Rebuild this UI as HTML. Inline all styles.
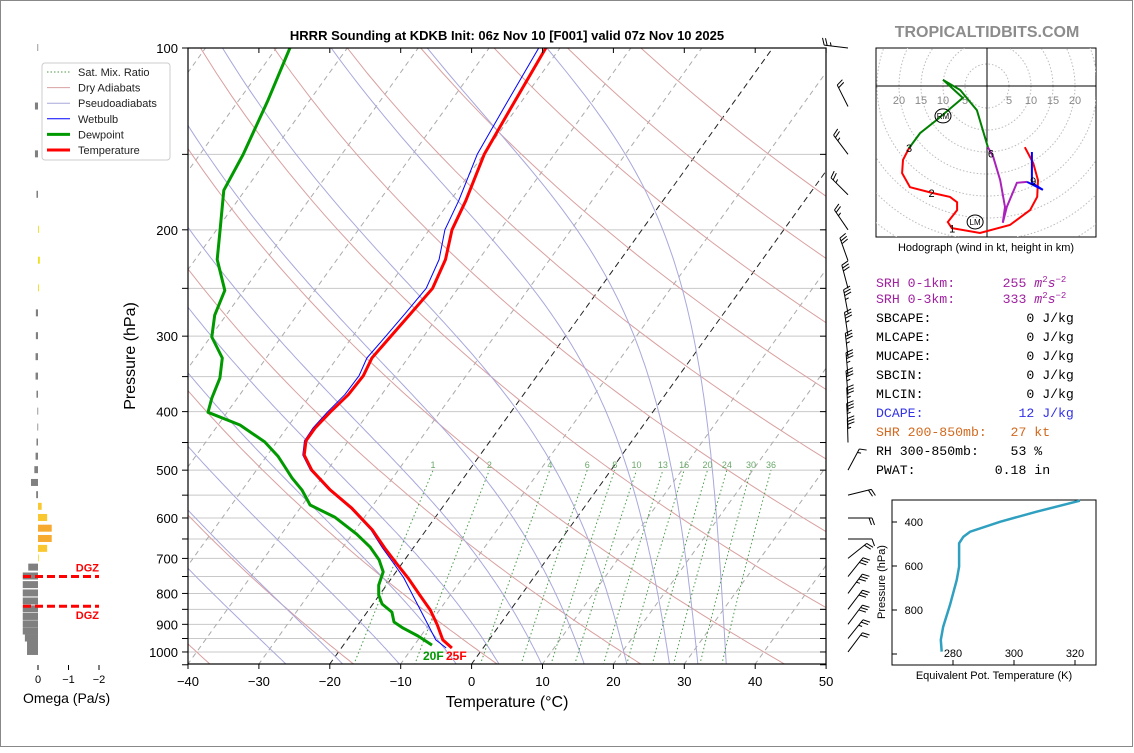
<!DOCTYPE html>
<html><head><meta charset="utf-8">
<style>
html,body{margin:0;padding:0;background:#fff;}
body{width:1134px;height:748px;overflow:hidden;font-family:"Liberation Sans",sans-serif;}
svg text{font-family:"Liberation Sans",sans-serif;}
.mono{font-family:"Liberation Mono",monospace;font-size:13.2px;}
</style></head>
<body>
<svg id="root" width="1134" height="748" viewBox="0 0 1134 748" xmlns="http://www.w3.org/2000/svg">
<rect x="0.5" y="0.5" width="1132" height="746" fill="#fff" stroke="#888"/>
<defs><clipPath id="plotclip"><rect x="188" y="48" width="638" height="616"/></clipPath>
<clipPath id="hodoclip"><rect x="876" y="48" width="220" height="189"/></clipPath></defs>
<text x="507" y="40" text-anchor="middle" font-size="13" font-weight="bold">HRRR Sounding at KDKB Init: 06z Nov 10 [F001] valid 07z Nov 10 2025</text>
<text x="987" y="37" text-anchor="middle" font-size="16" font-weight="bold" fill="#8c8c8c">TROPICALTIDBITS.COM</text>
<g id="bg" clip-path="url(#plotclip)"></g>
<g id="prof" clip-path="url(#plotclip)"></g>
<g id="axes"></g>
<g id="barbs"></g>
<g id="omega"></g>
<g id="legend"></g>
<g id="hodo"></g>
<g id="thetae"></g>
<g id="stats">
<text class="mono" x="876" y="287" fill="#a020a0" xml:space="preserve">SRH 0-1km:      255 <tspan font-style="italic">m</tspan><tspan font-size="9" dy="-5">2</tspan><tspan font-style="italic" dy="5">s</tspan><tspan font-size="9" dy="-5">−2</tspan></text>
<text class="mono" x="876" y="303" fill="#a020a0" xml:space="preserve">SRH 0-3km:      333 <tspan font-style="italic">m</tspan><tspan font-size="9" dy="-5">2</tspan><tspan font-style="italic" dy="5">s</tspan><tspan font-size="9" dy="-5">−2</tspan></text>
<text class="mono" x="876" y="322" xml:space="preserve">SBCAPE:            0 J/kg</text>
<text class="mono" x="876" y="341" xml:space="preserve">MLCAPE:            0 J/kg</text>
<text class="mono" x="876" y="360" xml:space="preserve">MUCAPE:            0 J/kg</text>
<text class="mono" x="876" y="379" xml:space="preserve">SBCIN:             0 J/kg</text>
<text class="mono" x="876" y="398" xml:space="preserve">MLCIN:             0 J/kg</text>
<text class="mono" x="876" y="417" fill="#3232e6" xml:space="preserve">DCAPE:            12 J/kg</text>
<text class="mono" x="876" y="436" fill="#d2691e" xml:space="preserve">SHR 200-850mb:   27 kt</text>
<text class="mono" x="876" y="455" xml:space="preserve">RH 300-850mb:    53 %</text>
<text class="mono" x="876" y="474" xml:space="preserve">PWAT:          0.18 in</text>
</g>
</svg>
<script>
// ---- Sounding data ----
const tempP = [985,955,902,852,805,754,712,673,628,578,539,500,472,447,426,401,375,349,326,304,274,250,224,200,179,150,127,100];
const tempC = [-4.4,-6.5,-8.8,-11.3,-14.3,-17.7,-20.9,-24.0,-27.6,-32.7,-37.6,-42.2,-44.8,-46.0,-46.0,-45.5,-44.7,-44.5,-45.1,-44.7,-44.1,-43.6,-44.7,-46.8,-47.8,-49.9,-50.8,-52.0];
const wetbulbC = [-5.2,-7.5,-10.1,-12.7,-15.3,-18.3,-21.3,-24.3,-27.8,-32.9,-37.8,-42.4,-45.0,-46.2,-46.3,-45.9,-45.2,-45.1,-45.8,-45.4,-44.9,-44.5,-45.6,-47.8,-48.8,-50.9,-51.8,-53.0];
const dewP = [974,941,913,892,859,833,805,775,737,704,670,638,598,571,539,515,494,474,449,421,401,380,352,326,301,277,252,224,200,172,150,122,100];
const dewC = [-7.5,-10.4,-13.3,-15.2,-16.5,-18.7,-20.1,-21.1,-21.8,-23.6,-26.2,-29.4,-34.2,-38.9,-41.6,-44.2,-46.3,-48.4,-51.7,-56.9,-62.7,-63.6,-64.5,-66.2,-69.8,-71.6,-72.7,-76.9,-79.5,-83.0,-83.9,-85.9,-88.1];
const xTicks = [-40,-30,-20,-10,0,10,20,30,40,50];
const yTicks = [100,200,300,400,500,600,700,800,900,1000];
const mixRatios = [1,2,4,6,8,10,13,16,20,24,30,36];
const dryThetaC = [-80,-60,-40,-20,0,20,40,60,80,100,120,140,160,180];
const moistStartC = [-26,-18,-10,-2,4,10,16,22,28,32,36];
// omega (Pa/s)
const omegaP = [100,125,150,175,200,225,250,275,300,325,350,375,400,425,450,475,500,525,550,575,600,625,650,675,700,725,750,775,800,825,850,875,900,925,950,975,1000];
const omegaV = [0.02,0.1,0.1,0.05,-0.03,-0.06,-0.03,0.07,0.07,0.08,0.08,0.05,0.02,0.02,0.05,0.08,0.12,0.23,0.06,-0.12,-0.3,-0.45,-0.45,-0.3,-0.02,0.32,0.5,0.5,0.5,0.5,0.5,0.5,0.5,0.5,0.43,0.36,0.36];
const omegaTicks = [0,-1,-2];
// wind barbs (kt)
const barbP = [100,125,150,175,200,225,250,275,300,325,350,375,400,425,450,500,550,600,650,700,750,800,850,900,950,1000];
const barbU = [25,10,15,18,15,10,8,6,5,4,3,3,2,2,1,-8,-20,-20,-12,-15,-20,-20,-19,-18,-16,-12];
const barbV = [-3,-20,-20,-18,-22,-28,-30,-32,-34,-35,-36,-36,-37,-36,-35,-15,-5,0,0,-12,-25,-27,-25,-24,-20,-16];
// hodograph (kt)
const hodoRedU = [8.6,10.5,11.6,11.4,9.8,5.2,-1.6,-8.0,-8.9,-6.8,-6.8,-8.4,-12.5,-17.5,-19.3,-19.1,-17.7];
const hodoRedV = [-13.9,-17.5,-21.4,-25.2,-28.2,-31.6,-33.4,-32.3,-30.9,-28.2,-26.4,-25.2,-24.3,-23.0,-19.8,-16.8,-14.1];
const hodoGreenU = [-17.7,-15.2,-11.4,-5.5,-10.0,-6.1,-2.3,0.2];
const hodoGreenV = [-14.1,-10.7,-7.7,-2.7,1.4,-0.9,-5.5,-13.9];
const hodoPurpleU = [0.2,1.4,3.0,4.1,3.6,4.5,6.8,9.1];
const hodoPurpleV = [-13.9,-16.1,-21.4,-27.5,-31.1,-27.5,-22.0,-21.8];
const hodoBlueU = [9.1,12.7,10.2,10.2];
const hodoBlueV = [-21.8,-23.6,-22.0,-15.0];
const hodoRingLabels = [5,10,15,20];
// theta-e profile
const thetaEP = [989,936,876,777,664,603,497,467,444,399,353,303];
const thetaEK = [276.3,276.0,276.8,279.0,281.2,282.0,282.0,283.4,285.6,295.4,307.4,321.6];
const thetaXTicks = [280,300,320];
const thetaYTicks = [400,600,800,1000];

const NS="http://www.w3.org/2000/svg";
function mk(parent,tag,attrs,text){const e=document.createElementNS(NS,tag);for(const k in attrs)e.setAttribute(k,attrs[k]);if(text!==undefined)e.textContent=text;parent.appendChild(e);return e;}
function yP(p){return 48+262.3*Math.log(p/100);}
function xT(T,p){return 188+(T+40)*7.09+(664-yP(p))*0.719;}
function ptsStr(a){return a.map(q=>q[0].toFixed(1)+","+q[1].toFixed(1)).join(" ");}
function esat(Tc){return 6.112*Math.exp(17.67*Tc/(Tc+243.5));}

const bg=document.getElementById('bg');
for(let p=100;p<=1050;p+=50){
  const l=mk(bg,'line',{x1:188,x2:826,y1:yP(p),y2:yP(p),stroke:'#c8c8c8','stroke-width':1});
  
  
}
for(let T=-120;T<=50;T+=10){
  const special=(T===0||T===-20);
  const l=mk(bg,'line',{x1:xT(T,1050),y1:yP(1050),x2:xT(T,100),y2:yP(100),stroke:special?'#222':'#aaa','stroke-width':1,'stroke-dasharray':special?'6,4':'5,4'});
  
  
}
dryThetaC.forEach(th=>{
  const pts=[];for(let p=1050;p>=100;p-=10){const T=(th+273.15)*Math.pow(p/1000,0.286)-273.15;pts.push([xT(T,p),yP(p)]);}
  const l=mk(bg,'polyline',{points:ptsStr(pts),fill:'none',stroke:'#d9a0a0','stroke-width':1});
  
  
});
function dTdp(T,p){const Rd=287.04,Cp=1005.7,Lv=2.501e6,eps=0.622;const es=esat(T-273.15);const rs=eps*es/(p-es);return (Rd*T+Lv*rs)/(p*(Cp+Lv*Lv*rs*eps/(Rd*T*T)));}
moistStartC.forEach(t0=>{
  let T=t0+273.15;const pts=[];
  for(let p=1050;p>=100;p-=5){pts.push([xT(T-273.15,p),yP(p)]);T+=dTdp(T,p)*(-5);}
  const l=mk(bg,'polyline',{points:ptsStr(pts),fill:'none',stroke:'#a8a8dc','stroke-width':1});
  
  
});
mixRatios.forEach(w=>{
  const pts=[];
  for(let p=1050;p>=500;p-=10){const e=w*p/(622+w);const L=Math.log(e/6.112);const T=243.5*L/(17.67-L);pts.push([xT(T,p),yP(p)]);}
  const l=mk(bg,'polyline',{points:ptsStr(pts),fill:'none',stroke:'#4a9a4a','stroke-width':1,'stroke-dasharray':'1.5,2.5'});
  
  
  const e=w*500/(622+w);const L=Math.log(e/6.112);const T=243.5*L/(17.67-L);
  const t=mk(document.getElementById('axes'),'text',{x:xT(T,500),y:468,'text-anchor':'middle','font-size':9,fill:'#6aa86a'},String(w));
  
  
});

const prof=document.getElementById('prof');
function profLine(P,T,color,wid,name){
  const l=mk(prof,'polyline',{points:ptsStr(P.map((p,i)=>[xT(T[i],p),yP(p)])),fill:'none',stroke:color,'stroke-width':wid,'stroke-linejoin':'round'});
  
  
}
profLine(dewP,dewC,'#009900',3,'dewpoint-line');
profLine(tempP,wetbulbC,'#0000ff',1,'wetbulb-line');
profLine(tempP,tempC,'#ff0000',3,'temperature-line');

const ax=document.getElementById('axes');
const frame=mk(ax,'rect',{x:188,y:48,width:638,height:616,fill:'none',stroke:'#000','stroke-width':1.2});


xTicks.forEach(T=>{
  const x=188+(T+40)*7.09;
  mk(ax,'line',{x1:x,x2:x,y1:664,y2:669,stroke:'#000'});
  mk(ax,'line',{x1:x,x2:x,y1:48,y2:53,stroke:'#000'});
  const t=mk(ax,'text',{x:x,y:686,'text-anchor':'middle','font-size':13},(T<0?'−'+(-T):String(T)));
  
  
});
for(let p=100;p<=1050;p+=50){
  const y=yP(p);
  mk(ax,'line',{x1:182,x2:188,y1:y,y2:y,stroke:'#000'});
  mk(ax,'line',{x1:820,x2:826,y1:y,y2:y,stroke:'#000'});
}
yTicks.forEach(p=>{
  const t=mk(ax,'text',{x:178,y:yP(p)+5,'text-anchor':'end','font-size':13},String(p));
  
  
});
let t=mk(ax,'text',{x:507,y:707,'text-anchor':'middle','font-size':16},'Temperature (°C)');


t=mk(ax,'text',{x:135,y:356,'text-anchor':'middle','font-size':16,transform:'rotate(-90 135 356)'},'Pressure (hPa)');


t=mk(ax,'text',{x:423,y:660,'font-size':12,'font-weight':'bold',fill:'#009900'},'20F');


t=mk(ax,'text',{x:446,y:660,'font-size':12,'font-weight':'bold',fill:'#ff0000'},'25F');



// wind barbs
const bb=document.getElementById('barbs');
barbP.forEach((p,i)=>{
  const u=barbU[i],v=barbV[i];const s=Math.hypot(u,v);
  const bx=848,by=yP(p);const dx=-u/s,dy=v/s;const L=24;
  const tx=bx+dx*L,ty=by+dy*L;
  const g=mk(bb,'g',{stroke:'#000','stroke-width':1,fill:'none'});
  
  
  mk(g,'line',{x1:bx,y1:by,x2:tx,y2:ty});
  const px=-dy,py=dx;
  let rem=Math.round(s/5)*5;let pos=0;
  while(rem>=10){const sx=tx-dx*pos,sy=ty-dy*pos;mk(g,'line',{x1:sx,y1:sy,x2:sx+px*7+dx*2.5,y2:sy+py*7+dy*2.5});rem-=10;pos+=3;}
  if(rem>=5){const sx=tx-dx*(pos+1),sy=ty-dy*(pos+1);mk(g,'line',{x1:sx,y1:sy,x2:sx+px*3.5+dx*1.2,y2:sy+py*3.5+dy*1.2});}
});

// omega panel
const om=document.getElementById('omega');
function ox(w){return 38-w*30.5;}
omegaP.forEach((p,i)=>{
  const w=omegaV[i];const y=yP(p);
  const col=w>=0?'#808080':(w>-0.1?'#f0e020':(w>-0.35?'#f9c830':'#f7aa30'));
  const r=mk(om,'rect',{x:Math.min(ox(0),ox(w)),y:y-4,width:Math.max(Math.abs(ox(w)-ox(0)),0.8),height:7,fill:col});
  
  
});
omegaTicks.forEach(w=>{
  mk(om,'line',{x1:ox(w),x2:ox(w),y1:665,y2:670,stroke:'#000'});
  const tt=mk(om,'text',{x:ox(w),y:683,'text-anchor':'middle','font-size':11},(w<0?'−'+(-w):String(w)));
  
  
});
t=mk(om,'text',{x:23,y:703,'font-size':14},'Omega (Pa/s)');


[yP(750),yP(840)].forEach((y,i)=>{
  const l=mk(om,'line',{x1:23,x2:99,y1:y,y2:y,stroke:'#ff0000','stroke-width':3,'stroke-dasharray':'8,4'});
  
  
  const d=mk(om,'text',{x:99,y:i===0?y-5:y+13,'text-anchor':'end','font-size':11,'font-weight':'bold',fill:'#ff0000'},'DGZ');
  
  
});

// legend
const lg=document.getElementById('legend');
mk(lg,'rect',{x:42,y:63,width:128,height:97,rx:3,fill:'#fff',stroke:'#ccc'});
const legItems=[['Sat. Mix. Ratio','#4a9a4a',1,'1.5,2'],['Dry Adiabats','#d9a0a0',1,''],['Pseudoadiabats','#a8a8dc',1,''],['Wetbulb','#0000ff',1,''],['Dewpoint','#009900',3,''],['Temperature','#ff0000',3,'']];
legItems.forEach((it,i)=>{
  const y=72+i*15.6;
  const g=mk(lg,'g',{});
  
  
  const a={x1:47,x2:70,y1:y,y2:y,stroke:it[1],'stroke-width':it[2]};if(it[3])a['stroke-dasharray']=it[3];
  mk(g,'line',a);
  mk(g,'text',{x:78,y:y+4,'font-size':11,fill:'#222'},it[0]);
});

// hodograph
const hd=document.getElementById('hodo');
const hx0=987,hy0=86,hk=4.4;
function hX(u){return hx0+u*hk;} function hY(v){return hy0-v*hk;}
mk(hd,'rect',{x:876,y:48,width:220,height:189,fill:'#fff',stroke:'#000'});
const hc=mk(hd,'g',{'clip-path':'url(#hodoclip)'});
for(let r=5;r<=50;r+=5){const c=mk(hc,'circle',{cx:hx0,cy:hy0,r:r*hk,fill:'none',stroke:'#bbb','stroke-dasharray':'1.5,2'});}
mk(hc,'line',{x1:876,x2:1096,y1:hy0,y2:hy0,stroke:'#000'});
mk(hc,'line',{x1:hx0,x2:hx0,y1:48,y2:237,stroke:'#000'});
hodoRingLabels.forEach(r=>{
  [r,-r].forEach(s=>{const tt=mk(hc,'text',{x:hX(s),y:104,'text-anchor':'middle','font-size':11,fill:'#888'},String(r));});
});
function hline(U,V,col,name){const l=mk(hc,'polyline',{points:ptsStr(U.map((u,i)=>[hX(u),hY(V[i])])),fill:'none',stroke:col,'stroke-width':2});}
hline(hodoRedU,hodoRedV,'#ff0000','hodo-0-3km');
hline(hodoGreenU,hodoGreenV,'#008000','hodo-3-6km');
hline(hodoPurpleU,hodoPurpleV,'#aa22bb','hodo-6-9km');
hline(hodoBlueU,hodoBlueV,'#0000ff','hodo-9-12km');
[['1',-7.9,-32.4],['2',-12.6,-24.3],['3',-17.7,-14.1],['6',0.9,-15.3],['9',10.5,-21.6]].forEach(h=>{
  const tt=mk(hc,'text',{x:hX(h[1]),y:hY(h[2])+4,'text-anchor':'middle','font-size':11},h[0]);
});
[['RM',-10,-6.8],['LM',-2.7,-30.9]].forEach(h=>{
  const g=mk(hc,'g',{});
  mk(g,'ellipse',{cx:hX(h[1]),cy:hY(h[2]),rx:8,ry:7,fill:'none',stroke:'#000'});
  mk(g,'text',{x:hX(h[1]),y:hY(h[2])+3,'text-anchor':'middle','font-size':8},h[0]);
});
t=mk(hd,'text',{x:986,y:251,'text-anchor':'middle','font-size':11},'Hodograph (wind in kt, height in km)');



// theta-e
const te=document.getElementById('thetae');
function tX(k){return 953+(k-280)*3.05;} function tY(p){return 522+(p-400)*0.22;}
mk(te,'rect',{x:892,y:500,width:204,height:165,fill:'#fff',stroke:'#000'});
const tl=mk(te,'polyline',{points:ptsStr(thetaEP.map((p,i)=>[tX(thetaEK[i]),tY(p)])),fill:'none',stroke:'#30a0c0','stroke-width':2.5});


thetaXTicks.forEach(k=>{
  mk(te,'line',{x1:tX(k),x2:tX(k),y1:665,y2:660,stroke:'#000'});
  const tt=mk(te,'text',{x:tX(k),y:657,'text-anchor':'middle','font-size':11},String(k));
});
thetaYTicks.forEach(p=>{
  mk(te,'line',{x1:892,x2:897,y1:tY(p),y2:tY(p),stroke:'#000'});
  if(p<1000){const tt=mk(te,'text',{x:923,y:tY(p)+4,'text-anchor':'end','font-size':11},String(p));}
});
t=mk(te,'text',{x:994,y:679,'text-anchor':'middle','font-size':11},'Equivalent Pot. Temperature (K)');


t=mk(te,'text',{x:885,y:582,'text-anchor':'middle','font-size':11,transform:'rotate(-90 885 582)'},'Pressure (hPa)');


</script>
</body></html>
